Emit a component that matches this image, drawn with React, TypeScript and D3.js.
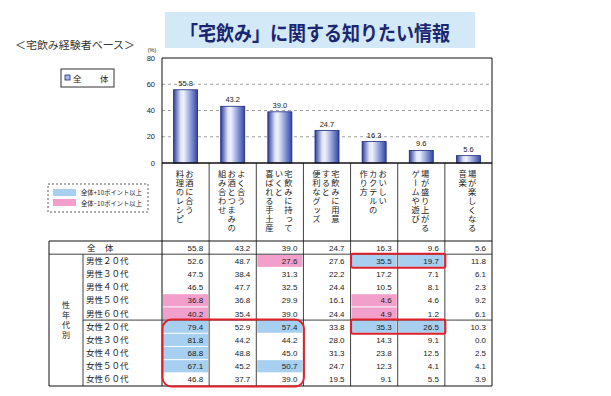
import React from "react";
import * as d3 from "d3";

const categories = [
  "お酒に合う料理のレシピ",
  "よく合うお酒とつまみの組み合わせ",
  "宅飲みに持っていくと喜ばれる手土産",
  "宅飲みに用意すると便利なグッズ",
  "おいしいカクテルの作り方",
  "場が盛り上がるゲームや遊び",
  "場が楽しくなる音楽",
];

// vertical label columns, right to left
const categoryLines = [
  ["お酒に合う", "料理のレシピ"],
  ["よく合う", "お酒とつまみの", "組み合わせ"],
  ["宅飲みに持って", "いくと", "喜ばれる手土産"],
  ["宅飲みに用意", "すると", "便利なグッズ"],
  ["おいしい", "カクテルの", "作り方"],
  ["場が盛り上がる", "ゲームや遊び"],
  ["場が楽しくなる", "音楽"],
];

const totalValues = [55.8, 43.2, 39.0, 24.7, 16.3, 9.6, 5.6];

const rowLabels = [
  "男性２０代", "男性３０代", "男性４０代", "男性５０代", "男性６０代",
  "女性２０代", "女性３０代", "女性４０代", "女性５０代", "女性６０代",
];

const rowValues = [
  [52.6, 48.7, 27.6, 27.6, 35.5, 19.7, 11.8],
  [47.5, 38.4, 31.3, 22.2, 17.2, 7.1, 6.1],
  [46.5, 47.7, 32.5, 24.4, 10.5, 8.1, 2.3],
  [36.8, 36.8, 29.9, 16.1, 4.6, 4.6, 9.2],
  [40.2, 35.4, 39.0, 24.4, 4.9, 1.2, 6.1],
  [79.4, 52.9, 57.4, 33.8, 35.3, 26.5, 10.3],
  [81.8, 44.2, 44.2, 28.0, 14.3, 9.1, 0.0],
  [68.8, 48.8, 45.0, 31.3, 23.8, 12.5, 2.5],
  [67.1, 45.2, 50.7, 24.7, 12.3, 4.1, 4.1],
  [46.8, 37.7, 39.0, 19.5, 9.1, 5.5, 3.9],
];

const yTicks = [0, 20, 40, 60, 80];

const FONT = "'Noto Sans CJK JP', sans-serif";
const NUM = "'Liberation Sans', Arial, sans-serif";

export default function App() {
  const left = 162, right = 492, top = 58, zeroY = 163;
  const tableTop = 241, tableBottom = 386;

  const x = d3.scaleBand<number>().domain(d3.range(categories.length)).range([left, right]);
  const y = d3.scaleLinear().domain([0, 80]).range([zeroY, top]);
  const rows = d3.scaleBand<number>().domain(d3.range(rowLabels.length + 1)).range([tableTop, tableBottom]);
  const bw = x.bandwidth() * 0.51;
  const lineGap = 9.5;

  const cellFill = (v: number, c: number) => {
    const d = v - totalValues[c];
    if (d >= 10) return "#a7cff0";
    if (d <= -10) return "#f29fcb";
    return null;
  };

  const rowY = (r: number) => rows(r + 1)!; // data rows start after 全体 row
  const rh = rows.bandwidth();

  // red call-out boxes: [rowStart, rowEnd, colStart, colEnd, radius]
  const callouts: [number, number, number, number, number][] = [
    [5, 9, 0, 2, 9],
    [0, 0, 4, 5, 2],
    [5, 5, 4, 5, 2],
  ];

  return (
    <svg width={611} height={396} style={{ position: "absolute", left: 0, top: 0, background: "#fff" }}>
      <defs>
        <linearGradient id="barGrad" x1="0" x2="1" y1="0" y2="0">
          <stop offset="0%" stopColor="#2e3d95" />
          <stop offset="30%" stopColor="#dfe5f8" />
          <stop offset="42%" stopColor="#eef1fb" />
          <stop offset="70%" stopColor="#8f9fd8" />
          <stop offset="100%" stopColor="#3343a3" />
        </linearGradient>
      </defs>

      {/* title */}
      <rect x={165} y={12} width={310} height={36} fill="#d3e9f8" />
      <text x={180} y={41} fontFamily={FONT} fontWeight="bold" fontSize={20} fill="#1b2670"
        textLength={270} lengthAdjust="spacingAndGlyphs">「宅飲み」に関する知りたい情報</text>
      <text x={15} y={49} fontFamily={FONT} fontSize={10.5} fill="#333" textLength={120}
        lengthAdjust="spacingAndGlyphs">＜宅飲み経験者ベース＞</text>

      {/* legend 1 */}
      <rect x={61} y={69} width={53} height={18} fill="#fff" stroke="#333" strokeWidth={1} />
      <rect x={65} y={75} width={5} height={5} fill="#aab6e8" stroke="#1c2a80" strokeWidth={0.8} />
      <text x={73} y={81.5} fontFamily={FONT} fontSize={8.5} fill="#222">全</text>
      <text x={100} y={81.5} fontFamily={FONT} fontSize={8.5} fill="#222">体</text>

      {/* legend 2 */}
      <rect x={48} y={184} width={100} height={28} fill="none" stroke="#333" strokeWidth={0.8} strokeDasharray="2,2" />
      <rect x={53} y={189} width={23} height={7} fill="#a7cff0" />
      <rect x={53} y={199} width={23} height={7} fill="#f29fcb" />
      <text x={81} y={195} fontFamily={FONT} fontSize={6.5} fill="#222" textLength={61} lengthAdjust="spacingAndGlyphs">全体+10ポイント以上</text>
      <text x={81} y={205.5} fontFamily={FONT} fontSize={6.5} fill="#222" textLength={61} lengthAdjust="spacingAndGlyphs">全体−10ポイント以上</text>

      {/* y axis */}
      <text x={152} y={52} fontFamily={NUM} fontSize={5.5} textAnchor="middle" fill="#222">(%)</text>
      {yTicks.map((t) => (
        <g key={t}>
          <text x={155} y={y(t) + 2.5} fontFamily={NUM} fontSize={7.5} textAnchor="end" fill="#222">{t}</text>
          {t > 0 && t < 80 && (
            <line x1={left} x2={right} y1={y(t)} y2={y(t)} stroke="#888" strokeWidth={0.8} strokeDasharray="3,3" />
          )}
        </g>
      ))}

      {/* bars */}
      {totalValues.map((v, i) => {
        const cx = x(i)! + x.bandwidth() / 2;
        return (
          <g key={i}>
            <rect x={cx - bw / 2} y={y(v)} width={bw} height={zeroY - y(v)} fill="url(#barGrad)" stroke="#1c2a80" strokeWidth={0.8} />
            <text x={cx} y={y(v) - 4} fontFamily={NUM} fontSize={7.5} textAnchor="middle" fill="#222">{v.toFixed(1)}</text>
          </g>
        );
      })}

      {/* category labels */}
      {categoryLines.map((lines, i) => {
        const cx = x(i)! + x.bandwidth() / 2 - 1;
        return lines.map((ln, k) => (
          <text key={i + "-" + k} x={cx + ((lines.length - 1) / 2 - k) * lineGap} y={170}
            fontFamily={FONT} fontSize={8.3} letterSpacing={0.7} fill="#222" style={{ writingMode: "vertical-rl" }}>{ln}</text>
        ));
      })}

      {/* table cell fills */}
      {rowValues.map((vals, r) =>
        vals.map((v, c) => {
          const f = cellFill(v, c);
          return f ? <rect key={r + "-" + c} x={x(c)! + 1} y={rowY(r) + 0.5} width={x.bandwidth() - 2} height={rh - 1} fill={f} /> : null;
        })
      )}

      {/* table header row 全体 */}
      <text x={87} y={rows(0)! + rh / 2 + 3} fontFamily={FONT} fontSize={8.5} fill="#222">全</text>
      <text x={105} y={rows(0)! + rh / 2 + 3} fontFamily={FONT} fontSize={8.5} fill="#222">体</text>
      {totalValues.map((v, c) => (
        <text key={c} x={x(c)! + x.bandwidth() - 6} y={rows(0)! + rh / 2 + 3} fontFamily={NUM} fontSize={8}
          textAnchor="end" fill="#222">{v.toFixed(1)}</text>
      ))}

      {rowLabels.map((lab, r) => (
        <text key={lab} x={86} y={rowY(r) + rh / 2 + 3} fontFamily={FONT} fontSize={8.5} fill="#222">{lab}</text>
      ))}
      {rowValues.map((vals, r) =>
        vals.map((v, c) => (
          <text key={r + "-" + c} x={x(c)! + x.bandwidth() - 6} y={rowY(r) + rh / 2 + 3} fontFamily={NUM} fontSize={8}
            textAnchor="end" fill="#222">{v.toFixed(1)}</text>
        ))
      )}

      {/* 性年代別 */}
      {"性年代別".split("").map((ch, i) => (
        <text key={ch} x={66} y={308 + i * 10} fontFamily={FONT} fontSize={8} textAnchor="middle" fill="#222">{ch}</text>
      ))}

      {/* frame and grid lines */}
      <g stroke="#111" fill="none">
        <line x1={left} x2={right} y1={top} y2={top} strokeWidth={1} />
        <line x1={left} x2={right} y1={zeroY} y2={zeroY} strokeWidth={1.3} />
        <line x1={left} x2={left} y1={top} y2={tableBottom} strokeWidth={1} />
        <line x1={right} x2={right} y1={top} y2={tableBottom} strokeWidth={1} />
        {d3.range(1, categories.length).map((c) => (
          <line key={c} x1={x(c)!} x2={x(c)!} y1={zeroY} y2={tableBottom} strokeWidth={0.8} />
        ))}
        <line x1={49} x2={right} y1={tableTop} y2={tableTop} strokeWidth={1} />
        <line x1={49} x2={right} y1={rows(1)!} y2={rows(1)!} strokeWidth={0.8} />
        <line x1={83} x2={right} y1={rowY(5)} y2={rowY(5)} strokeWidth={0.8} />
        <line x1={49} x2={right} y1={tableBottom} y2={tableBottom} strokeWidth={1} />
        <line x1={49} x2={49} y1={tableTop} y2={tableBottom} strokeWidth={1} />
        <line x1={83} x2={83} y1={rows(1)!} y2={tableBottom} strokeWidth={0.8} />
      </g>

      {/* red call-outs */}
      {callouts.map(([r0, r1, c0, c1, rad], i) => (
        <rect key={i} x={x(c0)! + 0.5} y={rowY(r0) - 0.5} width={x(c1)! + x.bandwidth() - x(c0)!}
          height={rowY(r1) + rh - rowY(r0) + 1} rx={rad} fill="none" stroke="#e0212b" strokeWidth={2} />
      ))}
    </svg>
  );
}
